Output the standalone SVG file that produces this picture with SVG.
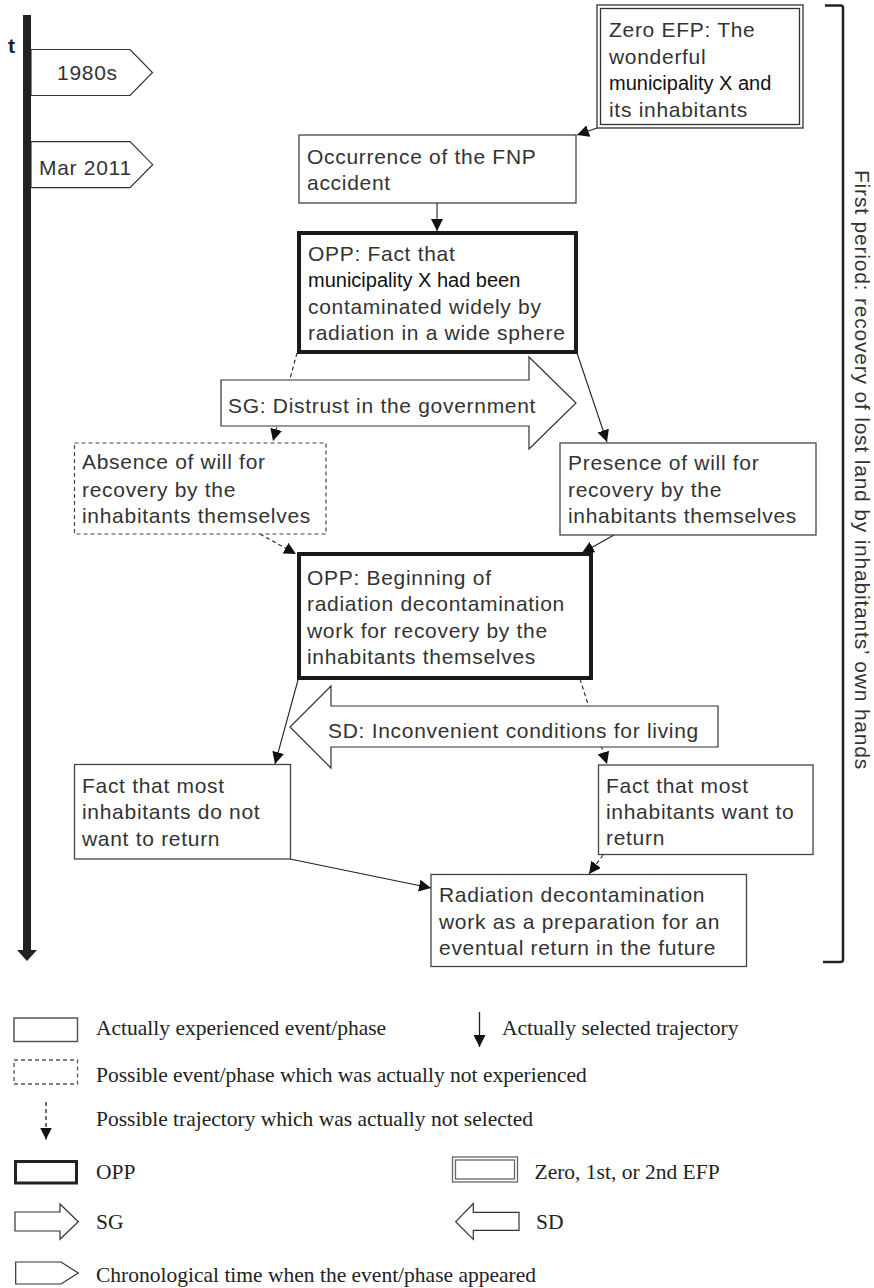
<svg xmlns="http://www.w3.org/2000/svg" width="874" height="1288" viewBox="0 0 874 1288">
<style>
.box{fill:#fff;stroke:#444;stroke-width:1.3}
.dbox{fill:#fff;stroke:#444;stroke-width:1.2;stroke-dasharray:4 3}
.opp{fill:#fff;stroke:#1a1a1a;stroke-width:4}
.blk{fill:#fff;stroke:#333;stroke-width:1.2;stroke-linejoin:miter}
.t{font-family:"Liberation Sans",Arial,sans-serif;font-size:21px;fill:#333;letter-spacing:0.7px}
.m{font-family:"Liberation Sans",Arial,sans-serif;font-size:20px;fill:#111;letter-spacing:0}
.lg{font-family:"Liberation Serif","Times New Roman",serif;font-size:21.5px;fill:#222}
.c{fill:none;stroke:#222;stroke-width:1.1;marker-end:url(#ah)}
.cd{fill:none;stroke:#222;stroke-width:1.1;stroke-dasharray:4 3;marker-end:url(#ah)}
</style>
<defs>
<marker id="ah" markerUnits="userSpaceOnUse" viewBox="0 0 12 12" refX="12" refY="6" markerWidth="12" markerHeight="12" orient="auto">
<path d="M0,0 L12,6 L0,12 z" fill="#111"/>
</marker>
</defs>
<rect width="874" height="1288" fill="#fff"/>

<g id="timeline">
<g id="tag-1980s">
<polygon class="blk" points="31,49.5 130,49.5 152.5,72.5 130,95.5 31,95.5"/>
<text class="t" x="57" y="80">1980s</text>
</g>
<g id="tag-mar2011">
<polygon class="blk" points="31,141.7 130,141.7 152.7,164.7 130,187.7 31,187.7"/>
<text class="t" x="39" y="174.5">Mar 2011</text>
</g>
<rect x="23" y="15" width="8" height="937" fill="#222"/>
<polygon points="17,950 37,950 27,961" fill="#222"/>
<text x="8" y="53" font-family="Liberation Sans,Arial,sans-serif" font-size="21" font-weight="bold" fill="#222">t</text>
</g>

<g id="bracket">
<path d="M825,5.5 L840.5,5.5 Q843,5.5 843,8 L843,959.5 Q843,962 840.5,962 L823,962" fill="none" stroke="#222" stroke-width="2.5"/>
<text class="t" transform="translate(855,170) rotate(90)" x="0" y="0" textLength="600" lengthAdjust="spacing">First period: recovery of lost land by inhabitants’ own hands</text>
</g>

<g id="connectors">
<line class="c" x1="597" y1="128" x2="577" y2="135"/>
<line class="c" x1="437" y1="203" x2="437" y2="231"/>
<line class="cd" x1="297" y1="353" x2="273" y2="441"/>
<line class="c" x1="577" y1="353" x2="607" y2="442"/>
<line class="cd" x1="260" y1="534" x2="296" y2="554"/>
<line class="c" x1="614" y1="535" x2="582" y2="553"/>
<line class="c" x1="298" y1="680" x2="275" y2="764"/>
<line class="cd" x1="580" y1="679" x2="607" y2="764"/>
<line class="c" x1="290" y1="859" x2="431" y2="888"/>
<line class="cd" x1="603" y1="855" x2="589" y2="874"/>
</g>

<g id="efp-zero">
<rect x="597" y="5" width="206" height="123" fill="#fff" stroke="#333" stroke-width="1.3"/>
<rect x="600.5" y="8.5" width="199" height="116" fill="none" stroke="#333" stroke-width="1.3"/>
<text class="t" x="609" y="37">Zero EFP: The</text>
<text class="t" x="609" y="63.5">wonderful</text>
<text class="m" x="609" y="90">municipality X and</text>
<text class="t" x="609" y="116.5">its inhabitants</text>
</g>

<g id="fnp-accident">
<rect class="box" x="299" y="135" width="277" height="68"/>
<text class="t" x="307" y="164">Occurrence of the FNP</text>
<text class="t" x="307" y="190">accident</text>
</g>

<g id="opp1">
<rect class="opp" x="299" y="233" width="277" height="119"/>
<text class="t" x="308" y="261">OPP: Fact that</text>
<text class="m" x="308" y="287">municipality X had been</text>
<text class="t" x="308" y="313.5">contaminated widely by</text>
<text class="t" x="308" y="340">radiation in a wide sphere</text>
</g>

<g id="sg-distrust">
<polygon class="blk" points="221,380 529,380 529,357 576,403 529,449 529,426 221,426"/>
<text class="t" x="228" y="412.5">SG: Distrust in the government</text>
</g>

<g id="absence-will">
<rect class="dbox" x="74.5" y="443" width="251.5" height="91"/>
<text class="t" x="82" y="469">Absence of will for</text>
<text class="t" x="82" y="496.5">recovery by the</text>
<text class="t" x="82" y="523">inhabitants themselves</text>
</g>

<g id="presence-will">
<rect class="box" x="560" y="443" width="256" height="92"/>
<text class="t" x="568" y="470">Presence of will for</text>
<text class="t" x="568" y="496.5">recovery by the</text>
<text class="t" x="568" y="523">inhabitants themselves</text>
</g>

<g id="opp2">
<rect class="opp" x="299" y="554" width="292" height="124"/>
<text class="t" x="307" y="585">OPP: Beginning of</text>
<text class="t" x="307" y="611">radiation decontamination</text>
<text class="t" x="307" y="637.5">work for recovery by the</text>
<text class="t" x="307" y="663.5">inhabitants themselves</text>
</g>

<g id="sd-inconvenient">
<polygon class="blk" points="718,706 331,706 331,686 290,727 331,768 331,747 718,747"/>
<text class="t" x="328" y="738">SD: Inconvenient conditions for living</text>
</g>

<g id="not-return">
<rect class="box" x="74.5" y="764.5" width="216" height="94.5"/>
<text class="t" x="82" y="792.5">Fact that most</text>
<text class="t" x="82" y="819">inhabitants do not</text>
<text class="t" x="82" y="846">want to return</text>
</g>

<g id="want-return">
<rect class="box" x="598.5" y="765" width="214.5" height="89.5"/>
<text class="t" x="606" y="792.5">Fact that most</text>
<text class="t" x="606" y="819">inhabitants want to</text>
<text class="t" x="606" y="845">return</text>
</g>

<g id="decontamination-future">
<rect class="box" x="431" y="874.5" width="315.5" height="92"/>
<text class="t" x="439" y="902">Radiation decontamination</text>
<text class="t" x="439" y="928.5">work as a preparation for an</text>
<text class="t" x="439" y="955">eventual return in the future</text>
</g>

<g id="legend">
<rect x="14" y="1018" width="63.5" height="23.5" fill="#fff" stroke="#555" stroke-width="1.5"/>
<text class="lg" x="96" y="1035">Actually experienced event/phase</text>
<line x1="479.5" y1="1012" x2="479.5" y2="1047" stroke="#222" stroke-width="1.3" marker-end="url(#ah)"/>
<text class="lg" x="502" y="1035">Actually selected trajectory</text>
<rect x="14" y="1060" width="63.5" height="24" fill="#fff" stroke="#555" stroke-width="1.3" stroke-dasharray="4 3"/>
<text class="lg" x="96" y="1081.5">Possible event/phase which was actually not experienced</text>
<line x1="46" y1="1102" x2="46" y2="1139.5" stroke="#222" stroke-width="1.3" stroke-dasharray="4 3" marker-end="url(#ah)"/>
<text class="lg" x="96" y="1125.5">Possible trajectory which was actually not selected</text>
<rect x="15.5" y="1161.5" width="61" height="21.5" fill="#fff" stroke="#222" stroke-width="3"/>
<text class="lg" x="96" y="1179">OPP</text>
<rect x="452.5" y="1157" width="65" height="25" fill="#fff" stroke="#666" stroke-width="1.3"/>
<rect x="455.5" y="1160" width="59" height="19" fill="none" stroke="#666" stroke-width="1.3"/>
<text class="lg" x="534.5" y="1179">Zero, 1st, or 2nd EFP</text>
<polygon class="blk" points="15,1212 60,1212 60,1204 78.3,1221.7 60,1239.3 60,1231 15,1231"/>
<text class="lg" x="96" y="1228.5">SG</text>
<polygon class="blk" points="519,1212.3 473.3,1212.3 473.3,1203.5 455.7,1221.7 473.3,1239.3 473.3,1230.3 519,1230.3"/>
<text class="lg" x="536" y="1229">SD</text>
<polygon class="blk" points="15.7,1262 61,1262 78.3,1273 61,1284 15.7,1284"/>
<text class="lg" x="96" y="1281.5">Chronological time when the event/phase appeared</text>
</g>
</svg>
